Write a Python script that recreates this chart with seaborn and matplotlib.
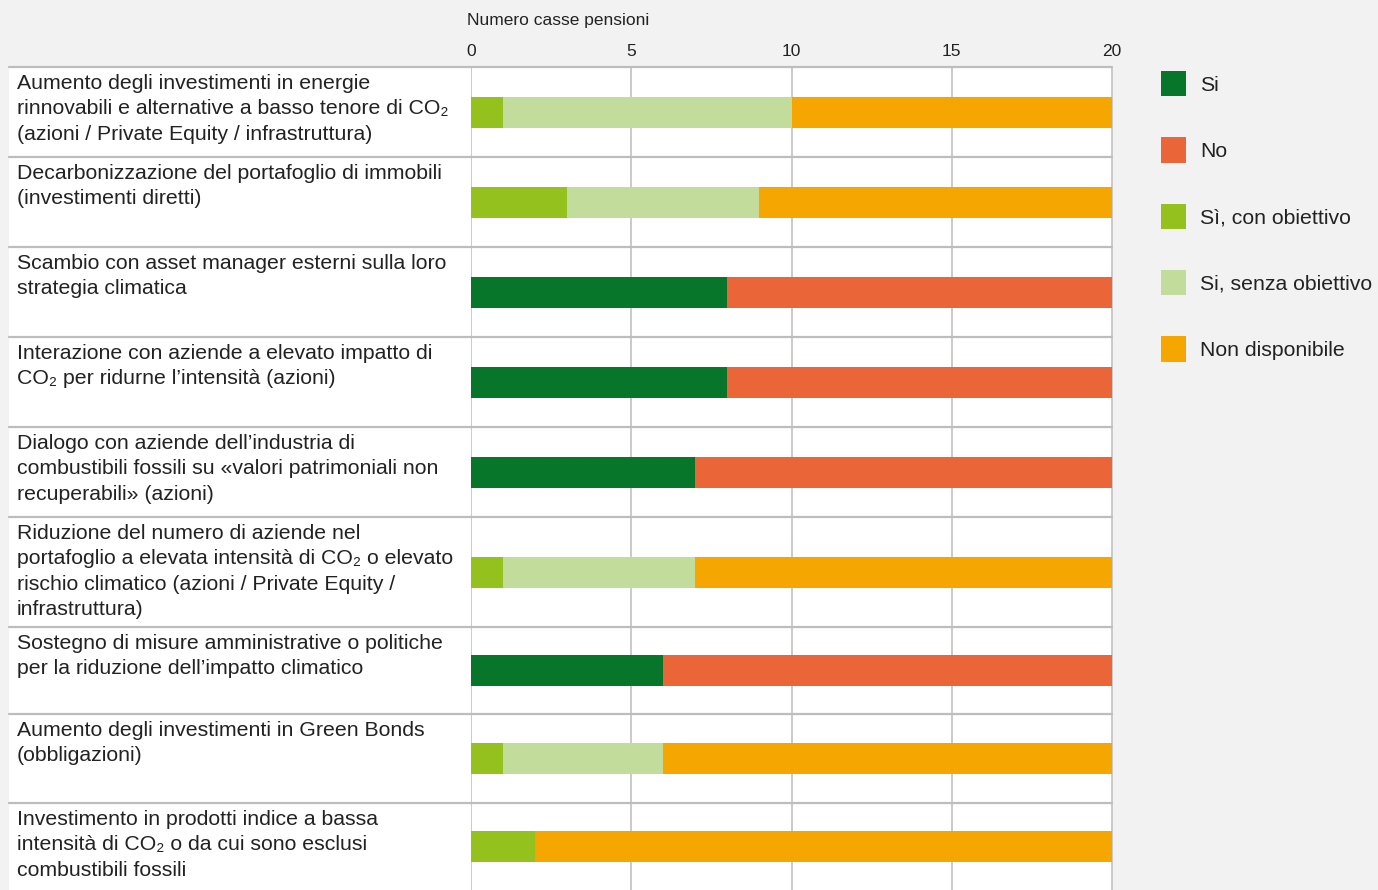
import numpy as np
import pandas as pd
import matplotlib
matplotlib.use("Agg")
import matplotlib.pyplot as plt
from matplotlib.patches import Patch
import seaborn as sns

# ---------------- data ----------------
categories = [
    "Aumento degli investimenti in energie\nrinnovabili e alternative a basso tenore di CO\u2082\n(azioni / Private Equity / infrastruttura)",
    "Decarbonizzazione del portafoglio di immobili\n(investimenti diretti)",
    "Scambio con asset manager esterni sulla loro\nstrategia climatica",
    "Interazione con aziende a elevato impatto di\nCO\u2082 per ridurne l\u2019intensit\u00e0 (azioni)",
    "Dialogo con aziende dell\u2019industria di\ncombustibili fossili su \u00abvalori patrimoniali non\nrecuperabili\u00bb (azioni)",
    "Riduzione del numero di aziende nel\nportafoglio a elevata intensit\u00e0 di CO\u2082 o elevato\nrischio climatico (azioni / Private Equity /\ninfrastruttura)",
    "Sostegno di misure amministrative o politiche\nper la riduzione dell\u2019impatto climatico",
    "Aumento degli investimenti in Green Bonds\n(obbligazioni)",
    "Investimento in prodotti indice a bassa\nintensit\u00e0 di CO\u2082 o da cui sono esclusi\ncombustibili fossili",
]
series_names = ["Si", "No", "S\u00ec, con obiettivo", "Si, senza obiettivo", "Non disponibile"]
si_vals     = [0, 0, 8, 8, 7, 0, 6, 0, 0]
no_vals     = [0, 0, 12, 12, 13, 0, 14, 0, 0]
con_vals    = [1, 3, 0, 0, 0, 1, 0, 1, 2]
senza_vals  = [9, 6, 0, 0, 0, 6, 0, 5, 0]
nd_vals     = [10, 11, 0, 0, 0, 13, 0, 14, 18]
x_ticks = [0, 5, 10, 15, 20]
x_title = "Numero casse pensioni"

colors = {
    "Si": "#07752a",
    "No": "#ea6639",
    "S\u00ec, con obiettivo": "#95c11f",
    "Si, senza obiettivo": "#c2dc9c",
    "Non disponibile": "#f6a600",
}

# ---------------- layout (pixels) ----------------
W, H = 1378, 890
row_heights = [90, 90, 90, 90, 90, 110, 87, 89, 87]
top0 = 67
tops = top0 + np.concatenate([[0], np.cumsum(row_heights)[:-1]])
centers = tops + np.array(row_heights) / 2.0
bounds = np.concatenate([tops, [tops[-1] + row_heights[-1]]])
bar_px = 31
min_gap = np.min(np.diff(centers))

BG = "#f2f2f2"
GRID = "#c6c6c6"
SEP = "#bdbdbd"
TXT = "#222222"
LABEL_FS = 15.3
SMALL_FS = 12.5

sns.set_theme(style="white")
plt.rcParams["font.family"] = ["Liberation Sans", "DejaVu Sans"]

fig = plt.figure(figsize=(W / 100, H / 100), dpi=100, facecolor=BG)

x0, x1 = 471, 1112
ax = fig.add_axes([x0 / W, 0, (x1 - x0) / W, (H - top0) / H])
ax.set_facecolor("white")
axl = fig.add_axes([9 / W, 0, (x0 - 9) / W, (H - top0) / H])
axl.set_facecolor("white")

# stacked bars: order of stacking
stack_order = ["Si", "S\u00ec, con obiettivo", "Si, senza obiettivo", "No", "Non disponibile"]
vals = {
    "Si": si_vals, "No": no_vals, "S\u00ec, con obiettivo": con_vals,
    "Si, senza obiettivo": senza_vals, "Non disponibile": nd_vals,
}
cum = np.zeros(len(categories))
layers = []
for name in stack_order:
    cum = cum + np.array(vals[name], dtype=float)
    layers.append((name, cum.copy()))

for name, c in reversed(layers):
    df = pd.DataFrame({"value": c, "pos": centers})
    sns.barplot(data=df, x="value", y="pos", orient="y", native_scale=True,
                width=bar_px / min_gap, color=colors[name], saturation=1,
                errorbar=None, linewidth=0, ax=ax, zorder=3)

ax.set_xlim(0, 20)
ax.set_ylim(H, top0)
ax.set_xticks(x_ticks)
ax.set_xticklabels([str(t) for t in x_ticks])
ax.xaxis.tick_top()
ax.tick_params(axis="x", length=0, pad=5.5, labelsize=SMALL_FS, labelcolor=TXT)
ax.set_yticks([])
ax.set_xlabel("")
ax.set_ylabel("")
for s in ax.spines.values():
    s.set_visible(False)
for t in x_ticks:
    ax.axvline(t, color=GRID, lw=1.3, zorder=1, clip_on=False)

axl.set_xlim(0, 1)
axl.set_ylim(H, top0)
axl.set_xticks([])
axl.set_yticks([])
for s in axl.spines.values():
    s.set_visible(False)

for b in bounds[:-1]:
    ax.axhline(b, color=SEP, lw=1.6, zorder=2, clip_on=False)
    axl.axhline(b, color=SEP, lw=1.6, zorder=2, clip_on=False)

lw_px = x0 - 9
for lab, t in zip(categories, tops):
    axl.text((17 - 9) / lw_px, t + 7, lab, ha="left", va="top",
             fontsize=LABEL_FS, color=TXT, linespacing=1.42)

fig.text(467 / W, 1 - 20 / H, x_title, ha="left", va="center",
         fontsize=SMALL_FS, color=TXT)

fs = LABEL_FS * 100 / 72
handles = [Patch(facecolor=colors[n], edgecolor="none") for n in series_names]
fig.legend(handles, series_names, loc="upper left",
           bbox_to_anchor=(1161 / W, 1 - 71 / H), frameon=False,
           fontsize=LABEL_FS, handlelength=25 / fs, handleheight=31 / fs,
           handletextpad=14 / fs, labelspacing=41 / fs, borderpad=0,
           borderaxespad=0, labelcolor=TXT)

fig.savefig("out.png", dpi=100, facecolor=BG)
